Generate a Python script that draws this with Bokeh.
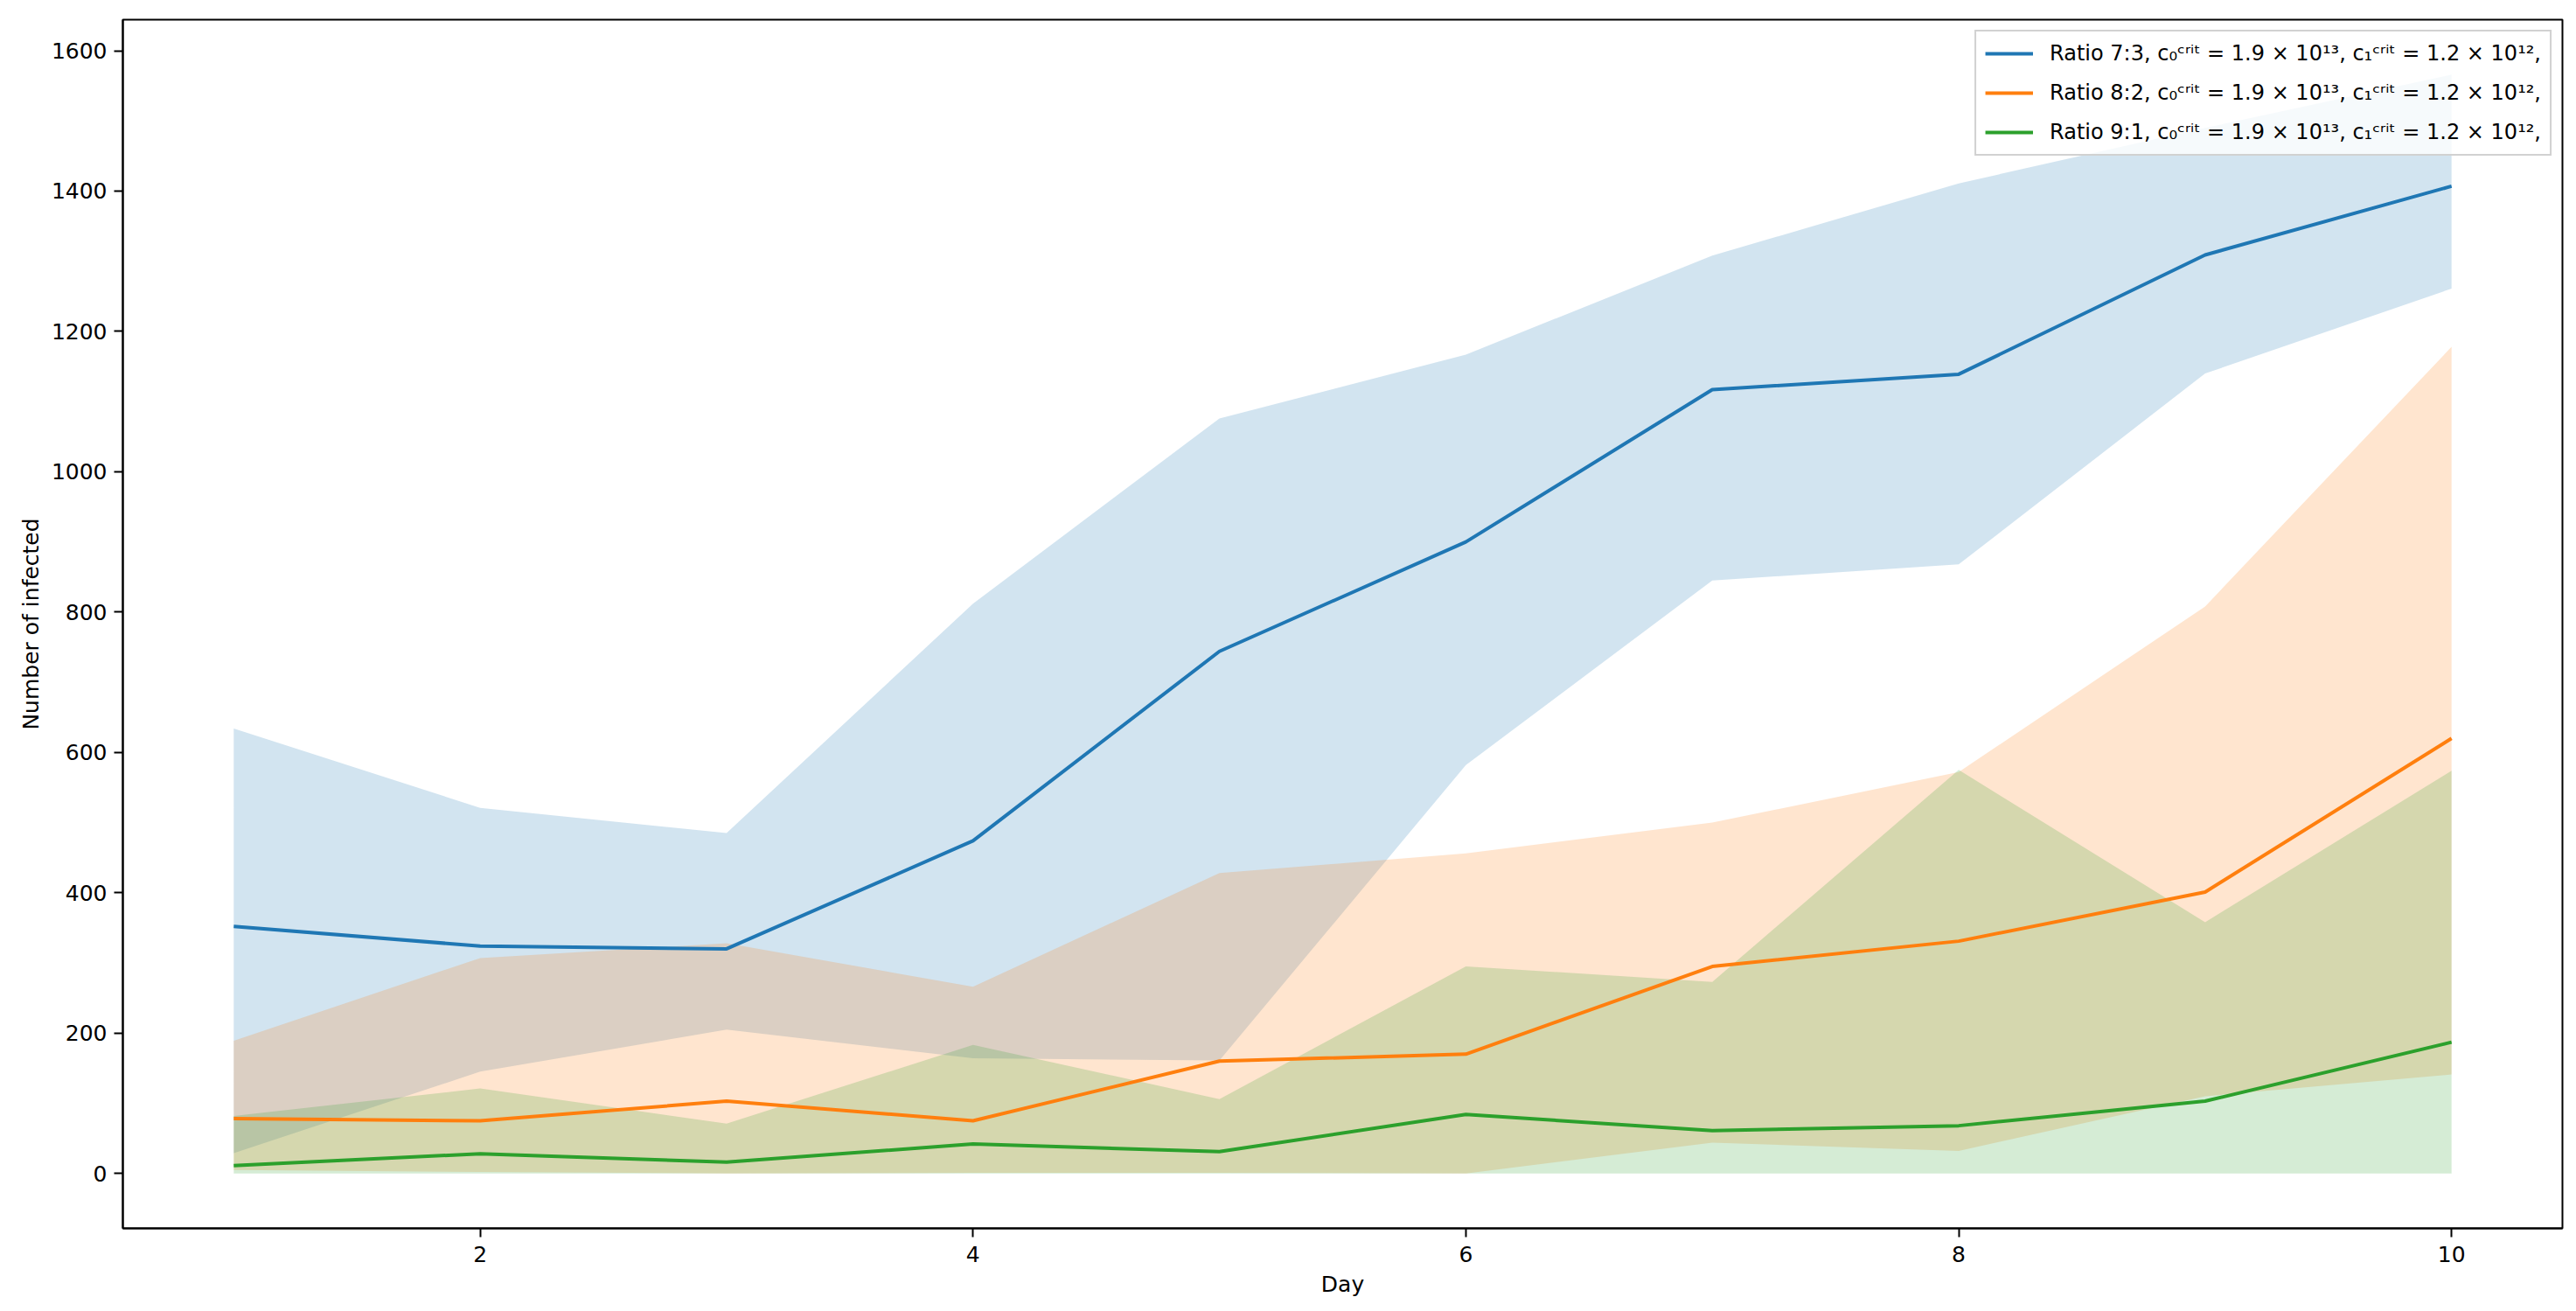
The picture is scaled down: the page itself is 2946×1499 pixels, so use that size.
from bokeh.plotting import figure
from bokeh.models import Range1d, Legend, LegendItem, FixedTicker
from bokeh.embed import file_html
from bokeh.resources import INLINE

# ---- data ----
days = [1, 2, 3, 4, 5, 6, 7, 8, 9, 10]

mean_73 = [352, 324, 320, 474, 744, 900, 1117, 1139, 1309, 1407]
upper_73 = [634, 521, 485, 812, 1076, 1167, 1308, 1411, 1490, 1566]
lower_73 = [29, 145, 205, 164, 161, 582, 845, 868, 1140, 1261]

mean_82 = [78, 75, 103, 75, 160, 170, 295, 331, 401, 620]
upper_82 = [189, 307, 328, 266, 428, 456, 500, 572, 808, 1178]
lower_82 = [5, 2, 0, 1, 1, 0, 44, 32, 110, 141]

mean_91 = [11, 28, 16, 42, 31, 84, 61, 68, 103, 187]
upper_91 = [82, 121, 71, 183, 106, 295, 273, 575, 358, 574]
lower_91 = [0, 0, 0, 0, 0, 0, 0, 0, 0, 0]

labels = [
    "Ratio 7:3, c\u2080\u1d9c\u02b3\u2071\u1d57 = 1.9 \u00d7 10\u00b9\u00b3, c\u2081\u1d9c\u02b3\u2071\u1d57 = 1.2 \u00d7 10\u00b9\u00b2,",
    "Ratio 8:2, c\u2080\u1d9c\u02b3\u2071\u1d57 = 1.9 \u00d7 10\u00b9\u00b3, c\u2081\u1d9c\u02b3\u2071\u1d57 = 1.2 \u00d7 10\u00b9\u00b2,",
    "Ratio 9:1, c\u2080\u1d9c\u02b3\u2071\u1d57 = 1.9 \u00d7 10\u00b9\u00b3, c\u2081\u1d9c\u02b3\u2071\u1d57 = 1.2 \u00d7 10\u00b9\u00b2,",
]
colors = ["#1f77b4", "#ff7f0e", "#2ca02c"]

x_ticks = [2, 4, 6, 8, 10]
y_ticks = [0, 200, 400, 600, 800, 1000, 1200, 1400, 1600]

series = [
    (mean_73, upper_73, lower_73),
    (mean_82, upper_82, lower_82),
    (mean_91, upper_91, lower_91),
]

# ---- ranges with matplotlib-like 5% margins ----
xmin, xmax = min(days), max(days)
xpad = 0.05 * (xmax - xmin)
ymin = min(min(s[2]) for s in series)
ymax = max(max(s[1]) for s in series)
ypad = 0.05 * (ymax - ymin)

FONT = "DejaVu Sans"

p = figure(
    frame_width=2790, frame_height=1382,
    min_border_left=140, min_border_right=8,
    min_border_top=22, min_border_bottom=86,
    x_range=Range1d(xmin - xpad, xmax + xpad),
    y_range=Range1d(ymin - ypad, ymax + ypad),
    output_backend="svg", toolbar_location=None,
    background_fill_color="white", border_fill_color="white",
)

p.grid.visible = False
p.outline_line_color = "black"
p.outline_line_width = 2
p.outline_line_alpha = 1.0

# fills first (below all lines)
for (m, u, l), c in zip(series, colors):
    p.varea(x=days, y1=l, y2=u, fill_color=c, fill_alpha=0.2)

items = []
for (m, u, l), c, lab in zip(series, colors, labels):
    r = p.line(x=days, y=m, line_color=c, line_width=4)
    items.append(LegendItem(label=lab, renderers=[r]))

legend = Legend(
    items=items, location="top_right",
    label_text_font=FONT, label_text_font_size="24px",
    label_text_color="black",
    glyph_width=55, glyph_height=30, label_height=30,
    label_standoff=19, spacing=15, padding=10, margin=12,
    border_line_color="#cccccc", border_line_width=2, border_line_alpha=0.9,
    background_fill_color="white", background_fill_alpha=0.8,
)
p.add_layout(legend)

for ax in (p.xaxis[0], p.yaxis[0]):
    ax.axis_line_color = "black"
    ax.axis_line_width = 2
    ax.major_tick_line_color = "black"
    ax.major_tick_line_width = 2
    ax.major_tick_out = 10
    ax.major_tick_in = 0
    ax.minor_tick_line_color = None
    ax.major_label_text_font = FONT
    ax.major_label_text_font_size = "25px"
    ax.major_label_text_color = "black"
    ax.axis_label_text_font = FONT
    ax.axis_label_text_font_size = "25px"
    ax.axis_label_text_font_style = "normal"
    ax.axis_label_text_color = "black"

p.xaxis[0].ticker = FixedTicker(ticks=x_ticks)
p.yaxis[0].ticker = FixedTicker(ticks=y_ticks)
p.xaxis[0].axis_label = "Day"
p.yaxis[0].axis_label = "Number of infected"
p.xaxis[0].major_label_standoff = 10
p.yaxis[0].major_label_standoff = 8
p.xaxis[0].axis_label_standoff = 8
p.yaxis[0].axis_label_standoff = 6

open("out.html", "w").write(file_html(p, INLINE))
